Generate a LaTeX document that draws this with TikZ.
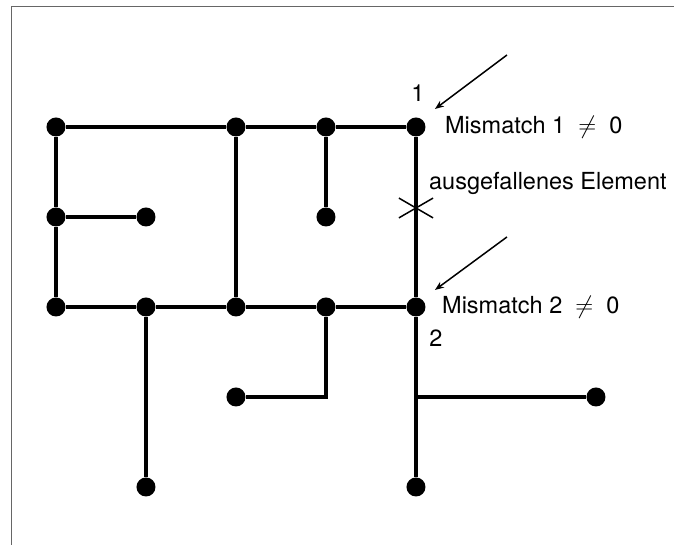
\documentclass[tikz,border=0pt]{standalone}
\usepackage{amsmath}
\usepackage{amssymb}
\usepackage{fontspec}
\setmainfont{TeX Gyre Heros}
\usepackage{tikz}
\usetikzlibrary{arrows.meta}
\usetikzlibrary{calc}

\tikzset{
    knot/.style={circle, fill, inner sep=0pt, minimum size=19pt},
    wire/.style={line width=3.8pt},
    lbl/.style={font=\fontsize{23.5}{28}\selectfont, inner sep=0pt}
}

\begin{document}
\begin{tikzpicture}[x=90pt,y=-90pt]
        \useasboundingbox (-0.622,-1.411) rectangle (6.867,4.644);
        % Rahmen
        \draw[line width=0.8pt, black!60] (6.867,-1.344) -- (-0.5,-1.344) -- (-0.5,4.644);
        % Knoten
        \node[knot] (a1) at (0,0) {};
        \node[knot] (a2) at (2,0) {};
        \node[knot] (a3) at (3,0) {};
        \node[knot] (a4) at (4,0) {};
        \node[knot] (b1) at (0,1) {};
        \node[knot] (b2) at (1,1) {};
        \node[knot] (b3) at (3,1) {};
        \node[knot] (c1) at (0,2) {};
        \node[knot] (c2) at (1,2) {};
        \node[knot] (c3) at (2,2) {};
        \node[knot] (c4) at (3,2) {};
        \node[knot] (c5) at (4,2) {};
        \node[knot] (d1) at (2,3) {};
        \node[knot] (d2) at (6,3) {};
        \node[knot] (e2) at (1,4) {};
        \node[knot] (e5) at (4,4) {};
        \coordinate (k4) at (3,3);
        \coordinate (j5) at (4,3);
        \coordinate (x1) at (4,0.9);
        % Leitungen
        \draw[wire] (a1) -- (a2) -- (a3) -- (a4);
        \draw[wire] (a1) -- (b1) -- (c1);
        \draw[wire] (b1) -- (b2);
        \draw[wire] (a2) -- (c3);
        \draw[wire] (a3) -- (b3);
        \draw[wire] (a4) -- (c5);
        \draw[wire] (c1) -- (c2) -- (c3) -- (c4) -- (c5);
        \draw[wire] (c2) -- (e2);
        \draw[wire] (c4) -- (k4) -- (d1);
        \draw[wire] (c5) -- (j5) -- (e5);
        \draw[wire] (j5) -- (d2);
        % ausgefallenes Element
        \draw[line width=1.5pt] ($(x1)+(-0.19,-0.11)$) -- ($(x1)+(0.19,0.11)$);
        \draw[line width=1.5pt] ($(x1)+(-0.19,0.11)$) -- ($(x1)+(0.19,-0.11)$);
        % Pfeile
        \coordinate (p1) at (5.011,-0.8);
        \coordinate (q1) at (4.211,-0.2);
        \coordinate (p2) at (5.011,1.222);
        \coordinate (q2) at (4.211,1.811);
        \draw[line width=1.5pt, -{Stealth[length=9pt,width=7pt]}] (p1) -- (q1);
        \draw[line width=1.5pt, -{Stealth[length=9pt,width=7pt]}] (p2) -- (q2);
        % Beschriftung
        \node[lbl] (n1) at (4.022,-0.378) {1};
        \node[lbl, anchor=west] (m1) at (4.322,0) {Mismatch 1 \;$\neq$\; 0};
        \node[lbl, anchor=west] (ae) at (4.144,0.622) {ausgefallenes Element};
        \node[lbl, anchor=west] (m2) at (4.289,2.0) {Mismatch 2 \;$\neq$\; 0};
        \node[lbl] (n2) at (4.222,2.344) {2};
    \end{tikzpicture}
\end{document}
